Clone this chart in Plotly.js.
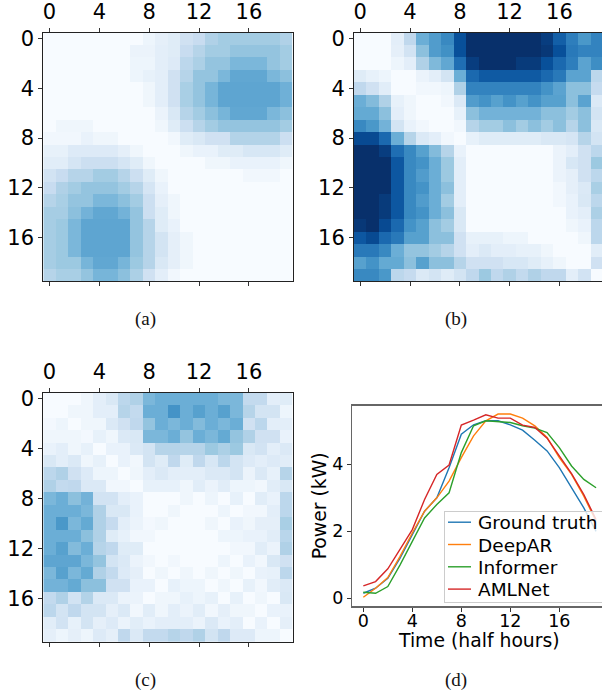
<!DOCTYPE html>
<html><head><meta charset="utf-8">
<script src="https://cdn.plot.ly/plotly-3.0.1.min.js"></script>
<style>html,body{margin:0;padding:0;background:#fff;overflow:hidden;width:602px;height:694px}</style>
</head><body><div id="chart"></div>
<script>
const panelA = [
[0,0,0,0,0,0,0,0,5,9,12,20,24,32,36,36,36,36,36,32],
[0,0,0,0,0,0,0,6,6,10,12,24,30,36,36,40,40,40,40,36],
[0,0,0,0,0,0,0,5,5,10,13,28,33,40,40,46,46,46,40,36],
[0,0,0,0,0,0,0,5,8,10,20,30,40,40,46,53,53,53,46,42],
[0,0,0,0,0,0,0,0,4,10,20,34,40,47,54,54,54,54,54,49],
[0,0,0,0,0,0,0,0,4,10,20,34,40,47,54,54,54,54,54,49],
[0,0,0,0,0,0,0,0,0,6,15,30,36,42,47,53,53,53,46,42],
[0,4,4,4,0,0,0,0,0,4,12,22,30,36,40,40,40,40,40,36],
[3,3,3,7,4,4,0,0,0,0,3,12,15,20,20,31,31,31,31,22],
[8,8,13,13,13,13,9,4,0,0,0,4,7,7,12,12,16,16,16,12],
[11,11,17,22,22,22,17,12,4,0,0,0,0,4,4,7,7,7,7,4],
[19,24,30,30,36,36,30,22,12,4,0,0,0,0,0,0,3,3,3,0],
[24,32,36,40,40,40,36,30,17,7,0,0,0,0,0,0,0,0,0,0],
[30,34,40,40,46,46,42,36,22,9,4,0,0,0,0,0,0,0,0,0],
[35,35,42,48,53,53,48,40,22,12,4,0,0,0,0,0,0,0,0,0],
[35,38,46,54,54,54,54,40,30,12,7,0,0,0,0,0,0,0,0,0],
[35,38,46,54,54,54,54,40,30,18,9,4,0,0,0,0,0,0,0,0],
[35,38,46,54,54,54,54,40,30,18,9,4,0,0,0,0,0,0,0,0],
[35,38,38,47,53,53,47,38,30,15,9,4,0,0,0,0,0,0,0,0],
[30,34,34,40,47,47,42,33,20,10,3,0,0,0,0,0,0,0,0,0]];
const panelB = [
[0,0,0,10,27,50,58,66,88,100,100,100,100,100,100,95,82,70,60,68],
[0,0,0,9,19,42,58,63,88,100,100,100,100,100,100,97,88,72,68,68],
[0,0,0,5,10,32,45,53,76,95,100,100,100,96,96,88,78,70,55,64],
[12,8,5,0,0,6,10,18,50,78,84,84,84,84,84,78,72,55,55,28],
[27,20,11,0,0,3,3,5,32,68,68,68,68,68,68,62,55,42,42,25],
[50,44,32,8,4,0,0,3,14,58,62,56,62,56,62,56,56,42,55,14],
[52,52,42,10,4,0,0,0,8,42,48,48,48,48,48,42,42,36,42,18],
[66,60,48,18,7,3,0,0,3,30,36,36,42,36,42,36,42,30,42,15],
[90,90,78,50,30,14,10,3,0,8,12,12,12,12,12,15,15,17,30,18],
[100,100,95,76,66,56,44,30,7,0,0,0,0,0,0,0,6,10,20,28],
[100,100,100,85,66,62,50,38,10,0,0,0,0,0,0,0,6,16,20,38],
[100,100,100,85,66,58,50,38,10,0,0,0,0,0,0,0,6,9,20,28],
[100,100,100,85,66,62,50,42,10,0,0,0,0,0,0,0,3,9,14,34],
[100,100,96,85,66,58,50,36,10,0,0,0,0,0,0,0,3,7,15,28],
[100,100,96,85,66,62,50,42,15,0,0,0,0,0,0,0,0,7,10,33],
[97,100,90,78,62,56,42,36,15,0,0,0,0,0,0,0,0,4,7,28],
[85,90,78,72,56,56,42,42,20,8,8,8,5,5,0,0,0,0,4,28],
[72,72,66,50,40,40,36,30,20,10,14,10,10,8,8,4,0,0,0,11],
[56,62,52,52,42,56,42,42,30,20,20,20,16,16,12,8,4,0,0,20],
[66,66,60,28,25,14,18,12,18,27,38,27,32,26,32,27,27,10,19,0]];
const panelC = [
[0,0,0,4,10,15,28,32,46,50,50,50,50,50,46,46,26,26,10,12],
[0,0,4,4,10,10,30,26,50,50,62,50,56,50,56,46,30,18,18,5],
[2,5,0,4,4,14,20,27,40,50,46,50,44,50,46,50,20,28,10,10],
[4,4,4,2,8,4,14,15,46,46,50,40,50,46,52,40,32,20,20,7],
[7,10,4,8,0,7,7,14,18,30,30,30,30,38,33,38,15,19,10,14],
[15,10,14,4,8,0,7,3,18,12,27,12,27,16,28,18,13,10,13,11],
[28,32,20,13,5,5,0,4,10,14,10,10,10,14,14,18,6,14,8,30],
[32,26,27,14,14,3,3,0,8,8,8,4,11,6,11,5,5,3,11,15],
[46,50,42,48,19,19,10,7,0,0,0,4,0,5,0,8,0,11,7,28],
[50,50,50,46,32,15,15,7,0,0,4,0,0,0,5,0,3,3,10,28],
[50,60,46,52,32,25,10,6,2,4,0,0,0,4,0,7,4,9,9,34],
[50,50,50,42,32,12,8,3,3,0,0,0,0,0,5,5,7,7,11,29],
[50,56,44,50,30,27,12,12,0,0,0,0,0,0,0,3,3,11,6,32],
[54,54,54,46,40,18,14,6,3,0,3,0,0,0,5,0,7,3,15,20],
[46,56,46,52,32,26,13,9,0,4,0,4,0,4,0,4,0,7,8,28],
[48,48,52,42,42,20,20,7,7,0,8,5,5,0,4,0,8,3,11,14],
[26,32,19,31,14,14,6,6,0,4,4,8,5,8,0,8,0,4,0,15],
[28,18,27,18,18,9,14,3,11,4,10,6,11,3,9,4,4,0,7,7],
[11,19,8,18,9,13,6,11,7,10,10,10,6,14,7,10,0,7,0,9],
[9,5,9,5,13,9,27,14,26,26,30,27,32,18,27,13,13,5,5,0]];
const hours = [0,1,2,3,4,5,6,7,8,9,10,11,12,13,14,15,16,17,18,19];
const groundTruth = [.15,.3,.6,1.2,1.9,2.6,3.0,3.9,4.9,5.18,5.3,5.3,5.18,5.02,4.72,4.4,3.9,3.3,2.7,2.0];
const deepAR = [.03,.3,.62,1.25,1.95,2.6,3.0,3.5,4.2,4.85,5.3,5.5,5.5,5.38,5.15,4.8,4.2,3.7,3.05,2.3];
const informer = [.18,.15,.35,1.0,1.7,2.4,2.8,3.15,4.35,5.15,5.3,5.28,5.25,5.15,5.08,4.95,4.5,3.95,3.55,3.3];
const amlNet = [.37,.5,.88,1.45,2.05,2.95,3.7,3.98,5.17,5.32,5.48,5.38,5.38,5.17,5.1,4.78,4.25,3.72,3.1,2.35];
const seriesNames = ['Ground truth','DeepAR','Informer','AMLNet'];
const heatTicks = [0,4,8,12,16];
const yTicksD = [0,2,4];
const captions = ['(a)','(b)','(c)','(d)'];
const xTitleD = 'Time (half hours)';

const W = 620, H = 694;
const blues = [[0,'#f7fbff'],[.125,'#deebf7'],[.25,'#c6dbef'],[.375,'#9ecae1'],[.5,'#6baed6'],[.625,'#4292c6'],[.75,'#2171b5'],[.875,'#08519c'],[1,'#08306b']];
const fx = (a,b)=>[a/W,b/W];
const fy = (t,b)=>[1-b/H,1-t/H];
const tickFont = {family:'DejaVu Sans, sans-serif', size:21, color:'#000'};

const boxes = [
  {x:[43.3,292.5], y:[32.5,281]},
  {x:[354,603], y:[32.5,281]},
  {x:[43.3,292.5], y:[392.7,642]}
];
const matrices = [panelA,panelB,panelC];
const traces = [], layout = {
  width:W, height:H, margin:{l:0,r:0,t:0,b:0}, paper_bgcolor:'#fff', plot_bgcolor:'#fff',
  showlegend:true, font:{family:'DejaVu Sans, sans-serif', color:'#000'}
};
matrices.forEach((m,i)=>{
  const n = i+1, sx = n===1?'':n, xa='xaxis'+sx, ya='yaxis'+sx;
  traces.push({type:'heatmap', z:m, x:hours, y:hours, xaxis:'x'+sx, yaxis:'y'+sx,
    colorscale:blues, zmin:0, zmax:100, showscale:false, zsmooth:false, hoverinfo:'skip', showlegend:false});
  layout[xa] = {domain:fx(...boxes[i].x), range:[-.5,19.5], side:'top', anchor:'y'+sx,
    tickmode:'array', tickvals:heatTicks, ticktext:heatTicks.map(String), ticks:'outside', ticklen:4, tickwidth:1, tickcolor:'#333',
    tickfont:tickFont, showgrid:false, zeroline:false, showline:true, linecolor:'#222', linewidth:1, mirror:'ticks'};
  layout[ya] = {domain:fy(...boxes[i].y), range:[19.5,-.5], anchor:'x'+sx,
    tickmode:'array', tickvals:heatTicks, ticktext:heatTicks.map(String), ticks:'outside', ticklen:4, tickwidth:1, tickcolor:'#333',
    tickfont:tickFont, showgrid:false, zeroline:false, showline:true, linecolor:'#222', linewidth:1, mirror:true};
});
const lineColors = ['#1f77b4','#ff7f0e','#2ca02c','#d62728'];
[groundTruth,deepAR,informer,amlNet].forEach((s,i)=>{
  traces.push({type:'scatter', mode:'lines', x:hours, y:s, name:seriesNames[i], xaxis:'x4', yaxis:'y4',
    line:{color:lineColors[i], width:1.4}, hoverinfo:'skip'});
});
const tf2 = {family:'DejaVu Sans, sans-serif', size:17.5, color:'#000'};
layout.xaxis4 = {domain:fx(352.3,607.7), range:[-.9,19.95], anchor:'y4', tickmode:'array', tickvals:heatTicks, ticktext:heatTicks.map(String),
  ticks:'outside', ticklen:4, tickwidth:1, tickcolor:'#333', tickfont:tf2, ticklabelstandoff:-6, showgrid:false, zeroline:false,
  showline:true, linecolor:'#666', linewidth:1.5, mirror:true};
layout.yaxis4 = {domain:fy(405.7,606), range:[-.23,5.75], anchor:'x4', tickmode:'array', tickvals:yTicksD, ticktext:yTicksD.map(String),
  ticks:'outside', ticklen:4, tickwidth:1, tickcolor:'#333', tickfont:tf2, showgrid:false, zeroline:false,
  showline:true, linecolor:'#666', linewidth:1.5, mirror:true,
  title:{text:'Power (kW)', font:{family:'DejaVu Sans, sans-serif', size:18.8, color:'#000'}, standoff:0}};
layout.legend = {x:444/W, xref:'paper', y:1-510.7/H, yref:'paper', xanchor:'left', yanchor:'top',
  bgcolor:'rgba(255,255,255,0.8)', bordercolor:'#ccc', borderwidth:1,
  font:{family:'DejaVu Sans, sans-serif', size:18.5, color:'#000'}, itemwidth:30, tracegroupgap:0};
const capPos = [[145,319],[456,319],[145,680],[456,680]];
layout.annotations = captions.map((c,i)=>({text:c, xref:'paper', yref:'paper', x:capPos[i][0]/W, y:1-capPos[i][1]/H,
  xanchor:'center', yanchor:'middle', showarrow:false, font:{family:'Liberation Serif, serif', size:19, color:'#111'}}));
layout.annotations.push({text:xTitleD, xref:'paper', yref:'paper', x:478.5/W, y:1-640/H, xanchor:'center', yanchor:'middle',
  showarrow:false, font:{family:'DejaVu Sans, sans-serif', size:18.8, color:'#000'}});
const gd = document.getElementById('chart');
Plotly.newPlot(gd, traces, layout, {staticPlot:true, displayModeBar:false}).then(()=>{
  // tighten the native legend to the reference's row pitch and swatch length
  const legend = gd.querySelector('.legend');
  legend.querySelectorAll('.traces').forEach((row,i)=>{
    row.setAttribute('transform', `translate(1,${11.5+i*22.3})`);
    const line = row.querySelector('.legendlines path');
    if(line) line.setAttribute('d','M3,0h23');
    const label = row.querySelector('.legendtext');
    if(label) label.setAttribute('x','33');
  });
  legend.querySelector('.bg').setAttribute('height','91');
  const box = legend.querySelector('.scrollbox');
  if(box) box.removeAttribute('clip-path');
});
</script></body></html>
